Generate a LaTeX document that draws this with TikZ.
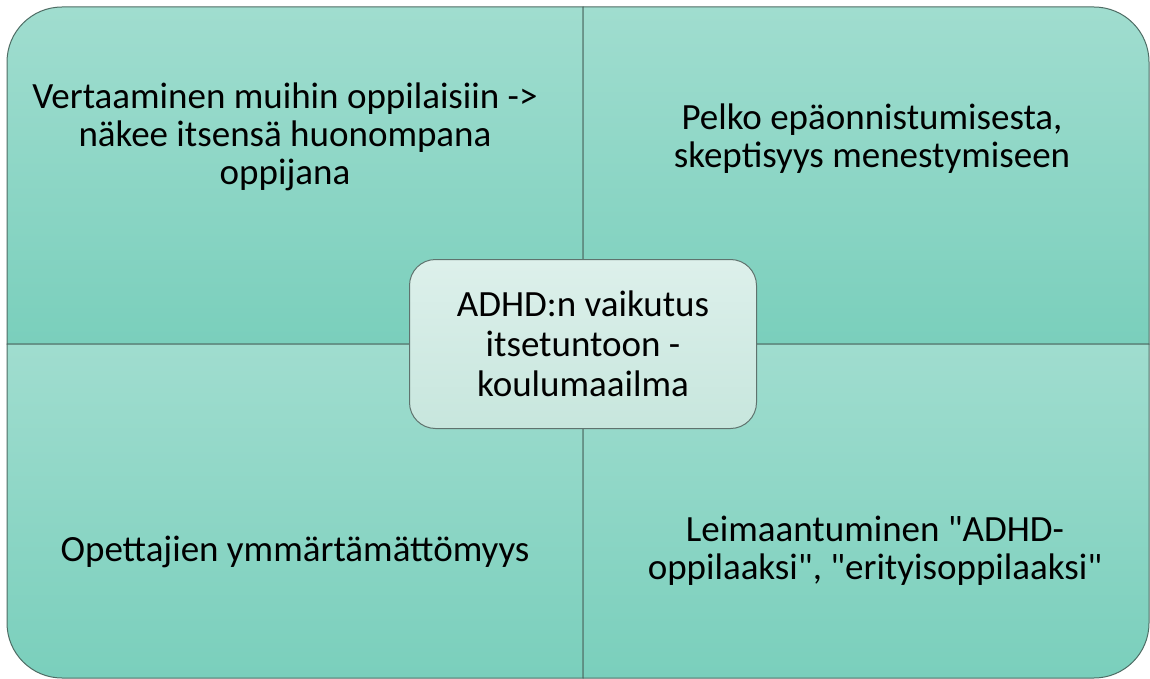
\documentclass[tikz,border=0pt]{standalone}
\usepackage{fontspec}
\setmainfont{Carlito}[Ligatures=TeXOff]
\usetikzlibrary{positioning}
\definecolor{quadtop}{RGB}{160,221,207}
\definecolor{quadbot}{RGB}{122,207,188}
\definecolor{quadedge}{RGB}{78,108,100}
\definecolor{hubtop}{RGB}{221,240,235}
\definecolor{hubbot}{RGB}{199,230,221}
\definecolor{hubedge}{RGB}{95,115,110}

\begin{document}
\begin{tikzpicture}[
        x=1pt, y=-1pt,
        quad/.style={top color=quadtop, bottom color=quadbot, draw=quadedge, line width=1pt},
        txt/.style={font=\fontsize{37}{38}\selectfont, align=center, text=black},
        hub/.style={rounded corners=26pt, draw=hubedge, line width=1pt, top color=hubtop, bottom color=hubbot,
                    minimum width=347pt, minimum height=169pt, align=center, font=\fontsize{37}{40}\selectfont}
    ]
        \useasboundingbox (0,0) rectangle (1150,679);

        % Quadrants, one rounded outer corner each
        \shade[quad] (7,344) [rounded corners=55pt] -- (7,7) [sharp corners] -- (583,7) -- (583,344) -- cycle;
        \shade[quad] (583,7) [rounded corners=55pt] -- (1149,7) [sharp corners] -- (1149,344) -- (583,344) -- cycle;
        \shade[quad] (583,678) [rounded corners=55pt] -- (7,678) [sharp corners] -- (7,344) -- (583,344) -- cycle;
        \shade[quad] (1149,344) [rounded corners=55pt] -- (1149,678) [sharp corners] -- (583,678) -- (583,344) -- cycle;

        % Texts of the quadrants
        \node[txt] (cmp) at (285,137) {Vertaaminen muihin oppilaisiin ->\\näkee itsensä huonompana\\oppijana};
        \node[txt] (fear) at (872,139) {Pelko epäonnistumisesta,\\skeptisyys menestymiseen};
        \node[txt] (teach) at (295,552) {Opettajien ymmärtämättömyys};
        \node[txt] (label) at (875,551) {Leimaantuminen "ADHD-\\oppilaaksi", "erityisoppilaaksi"};

        % Centre
        \node[hub] (adhd) at (583,344) {ADHD:n vaikutus\\itsetuntoon -\\koulumaailma};
    \end{tikzpicture}
\end{document}
